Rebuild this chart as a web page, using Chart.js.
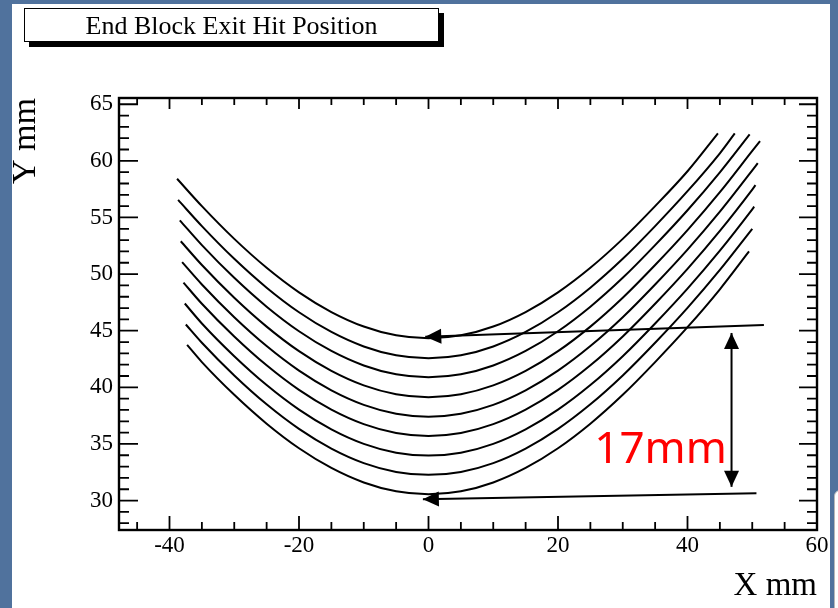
<!DOCTYPE html>
<html>
<head>
<meta charset="utf-8">
<script src="https://cdn.jsdelivr.net/npm/chart.js@4/dist/chart.umd.min.js"></script>
<style>
  html,body{margin:0;padding:0;}
  body{width:838px;height:608px;overflow:hidden;position:relative;background:#50729d;}
  #page{position:absolute;left:12px;top:4px;width:818px;height:604px;background:#fff;}
  #corner{position:absolute;left:834px;top:490px;width:20px;height:140px;background:#fff;border:1px solid #b8b8b8;border-radius:6px 0 0 0;}
  #title{position:absolute;left:24px;top:8px;width:413px;height:32px;border:1.6px solid #000;background:#fff;
    box-shadow:5px 5px 0 #000;font-family:'Liberation Serif',serif;font-size:26px;line-height:33px;text-align:center;color:#000;}
  canvas{position:absolute;left:0;top:0;}
</style>
</head>
<body>
<div id="page"></div>
<div id="corner"></div>
<canvas id="c" width="838" height="608"></canvas>
<div id="title">End Block Exit Hit Position</div>
<script>
// ---- data ----
const titleText = 'End Block Exit Hit Position';
const xTitle = 'X mm';
const yTitle = 'Y mm';
const xTickValues = [-40, -20, 0, 20, 40, 60];
const yTickValues = [30, 35, 40, 45, 50, 55, 60, 65];
const xRange = [-47.8, 60];
const yRange = [27.4, 65.55];

const curve1X = [-38.83, -35, -30, -25, -20, -15, -10, -5, 0, 5, 10, 15, 20, 25, 30, 35, 40, 44.7];
const curve1Y = [58.42, 56.00, 53.11, 50.56, 48.39, 46.65, 45.37, 44.59, 44.33, 44.59, 45.37, 46.65, 48.39, 50.56, 53.11, 56.00, 59.08, 62.43];

const curve2X = [-38.67, -35, -30, -25, -20, -15, -10, -5, 0, 5, 10, 15, 20, 25, 30, 35, 40, 45, 47.3];
const curve2Y = [56.55, 54.24, 51.35, 48.80, 46.63, 44.89, 43.61, 42.83, 42.57, 42.83, 43.61, 44.89, 46.63, 48.80, 51.35, 54.24, 57.32, 60.67, 62.43];

const curve3X = [-38.41, -35, -30, -25, -20, -15, -10, -5, 0, 5, 10, 15, 20, 25, 30, 35, 40, 45, 49.6];
const curve3Y = [54.75, 52.56, 49.67, 47.12, 44.95, 43.21, 41.93, 41.15, 40.89, 41.15, 41.93, 43.21, 44.95, 47.12, 49.67, 52.56, 55.64, 58.99, 62.34];

const curve4X = [-38.26, -35, -30, -25, -20, -15, -10, -5, 0, 5, 10, 15, 20, 25, 30, 35, 40, 45, 50, 51.2];
const curve4Y = [52.90, 50.80, 47.91, 45.36, 43.19, 41.45, 40.17, 39.39, 39.13, 39.39, 40.17, 41.45, 43.19, 45.36, 47.91, 50.80, 53.88, 57.23, 60.88, 61.75];

const curve5X = [-38.05, -35, -30, -25, -20, -15, -10, -5, 0, 5, 10, 15, 20, 25, 30, 35, 40, 45, 50, 50.85];
const curve5Y = [51.05, 49.08, 46.19, 43.64, 41.47, 39.73, 38.45, 37.67, 37.41, 37.67, 38.45, 39.73, 41.47, 43.64, 46.19, 49.08, 52.16, 55.51, 59.16, 59.80];

const curve6X = [-37.84, -35, -30, -25, -20, -15, -10, -5, 0, 5, 10, 15, 20, 25, 30, 35, 40, 45, 50, 50.5];
const curve6Y = [49.25, 47.38, 44.49, 41.94, 39.77, 38.03, 36.75, 35.97, 35.71, 35.97, 36.75, 38.03, 39.77, 41.94, 44.49, 47.38, 50.46, 53.81, 57.46, 57.85];

const curve7X = [-37.64, -35, -30, -25, -20, -15, -10, -5, 0, 5, 10, 15, 20, 25, 30, 35, 40, 45, 50, 50.3];
const curve7Y = [47.40, 45.64, 42.75, 40.20, 38.03, 36.29, 35.01, 34.23, 33.97, 34.23, 35.01, 36.29, 38.03, 40.20, 42.75, 45.64, 48.72, 52.07, 55.72, 55.95];

const curve8X = [-37.48, -35, -30, -25, -20, -15, -10, -5, 0, 5, 10, 15, 20, 25, 30, 35, 40, 45, 50];
const curve8Y = [45.55, 43.94, 41.05, 38.50, 36.33, 34.59, 33.31, 32.53, 32.27, 32.53, 33.31, 34.59, 36.33, 38.50, 41.05, 43.94, 47.02, 50.37, 54.00];

const curve9X = [-37.28, -35, -30, -25, -20, -15, -10, -5, 0, 5, 10, 15, 20, 25, 30, 35, 40, 45, 49.5];
const curve9Y = [43.75, 42.23, 39.34, 36.79, 34.62, 32.88, 31.60, 30.82, 30.56, 30.82, 31.60, 32.88, 34.62, 36.79, 39.34, 42.23, 45.31, 48.66, 52.00];

// annotation (arrows + label), in data units
const arrowTopFrom = [51.8, 45.51], arrowTopTo = [-0.5, 44.47];
const arrowBotFrom = [50.65, 30.65], arrowBotTo = [-0.87, 30.12];
const spanArrowX = 46.8, spanArrowY = [44.8, 31.21];
const spanLabel = '17mm';
const spanLabelPos = [25.6, 33.28];

// ---- chart ----
document.getElementById('title').textContent = titleText;

const curvesX = [curve1X, curve2X, curve3X, curve4X, curve5X, curve6X, curve7X, curve8X, curve9X];
const curvesY = [curve1Y, curve2Y, curve3Y, curve4Y, curve5Y, curve6Y, curve7Y, curve8Y, curve9Y];
const datasets = curvesX.map((xs, i) => ({
  data: xs.map((xv, j) => ({x: xv, y: curvesY[i][j]})),
  borderColor: '#000',
  borderWidth: 2,
  pointRadius: 0,
  fill: false,
  cubicInterpolationMode: 'monotone'
}));

const serif = "'Liberation Serif', 'Times New Roman', serif";

const frameTicks = {
  id: 'frameTicks',
  afterDatasetsDraw(chart) {
    const {ctx, chartArea: a, scales: {x, y}} = chart;
    ctx.save();
    ctx.strokeStyle = '#000';
    ctx.lineCap = 'butt';
    ctx.lineWidth = 1.8;
    // x ticks: minor every 5, major every 20
    for (let v = -45; v <= 60; v += 5) {
      const major = xTickValues.includes(v);
      const px = x.getPixelForValue(v);
      if (px < a.left || px > a.right) continue;
      ctx.beginPath();
      ctx.moveTo(px, a.bottom); ctx.lineTo(px, a.bottom - (major ? 14 : 8));
      ctx.moveTo(px, a.top); ctx.lineTo(px, a.top + (major ? 11 : 7));
      ctx.stroke();
    }
    // y ticks: minor every 1, major every 5
    for (let v = 28; v <= 65; v += 1) {
      const major = yTickValues.includes(v);
      const py = y.getPixelForValue(v);
      if (py < a.top || py > a.bottom) continue;
      ctx.beginPath();
      ctx.moveTo(a.left, py); ctx.lineTo(a.left + (major ? 19 : 10), py);
      ctx.moveTo(a.right, py); ctx.lineTo(a.right - (major ? 18 : 10), py);
      ctx.stroke();
    }
    ctx.lineWidth = 2.4;
    ctx.strokeRect(a.left, a.top, a.right - a.left, a.bottom - a.top);

    // annotations
    const P = (pt) => [x.getPixelForValue(pt[0]), y.getPixelForValue(pt[1])];
    function arrow(from, to, heads) {
      const [x1, y1] = from, [x2, y2] = to;
      ctx.lineWidth = 2;
      ctx.beginPath(); ctx.moveTo(x1, y1); ctx.lineTo(x2, y2); ctx.stroke();
      const head = (tx, ty, fx, fy) => {
        const ang = Math.atan2(ty - fy, tx - fx);
        const L = 16, W = 7.5;
        ctx.beginPath();
        ctx.moveTo(tx, ty);
        ctx.lineTo(tx - L * Math.cos(ang) + W * Math.sin(ang), ty - L * Math.sin(ang) - W * Math.cos(ang));
        ctx.lineTo(tx - L * Math.cos(ang) - W * Math.sin(ang), ty - L * Math.sin(ang) + W * Math.cos(ang));
        ctx.closePath(); ctx.fill();
      };
      ctx.fillStyle = '#000';
      head(x2, y2, x1, y1);
      if (heads === 2) head(x1, y1, x2, y2);
    }
    arrow(P(arrowTopFrom), P(arrowTopTo), 1);
    arrow(P(arrowBotFrom), P(arrowBotTo), 1);
    arrow(P([spanArrowX, spanArrowY[0]]), P([spanArrowX, spanArrowY[1]]), 2);

    const lp = P(spanLabelPos);
    ctx.fillStyle = '#ff0000';
    ctx.font = "44px 'Noto Sans', 'Open Sans', sans-serif";
    ctx.textAlign = 'left';
    ctx.textBaseline = 'alphabetic';
    ctx.fillText(spanLabel, lp[0], lp[1]);
    ctx.restore();
  }
};

new Chart(document.getElementById('c'), {
  type: 'line',
  data: { datasets },
  options: {
    responsive: false,
    maintainAspectRatio: false,
    devicePixelRatio: 1,
    animation: false,
    events: [],
    layout: { padding: { left: 0, top: 98, right: 21, bottom: 0 } },
    plugins: { legend: { display: false }, tooltip: { enabled: false }, title: { display: false } },
    scales: {
      x: {
        type: 'linear',
        min: xRange[0], max: xRange[1],
        afterBuildTicks: (s) => { s.ticks = xTickValues.map(v => ({value: v})); },
        afterFit: (s) => { s.height = 78; },
        grid: { display: false, drawTicks: false },
        border: { display: false },
        ticks: { color: '#000', padding: 2, maxRotation: 0, font: { family: serif, size: 23 }, callback: (v) => String(v) },
        title: { display: true, text: xTitle, align: 'end', color: '#000', font: { family: serif, size: 33 }, padding: { top: 0, bottom: 2 } }
      },
      y: {
        type: 'linear',
        min: yRange[0], max: yRange[1],
        afterBuildTicks: (s) => { s.ticks = yTickValues.map(v => ({value: v})); },
        afterFit: (s) => { s.width = 119; },
        grid: { display: false, drawTicks: false },
        border: { display: false },
        ticks: { color: '#000', padding: 6, font: { family: serif, size: 23 }, callback: (v) => String(v) },
        title: { display: true, text: yTitle, align: 'end', color: '#000', font: { family: serif, size: 34 }, padding: { top: 6, bottom: 0 } }
      }
    }
  },
  plugins: [frameTicks]
});
</script>
</body>
</html>
